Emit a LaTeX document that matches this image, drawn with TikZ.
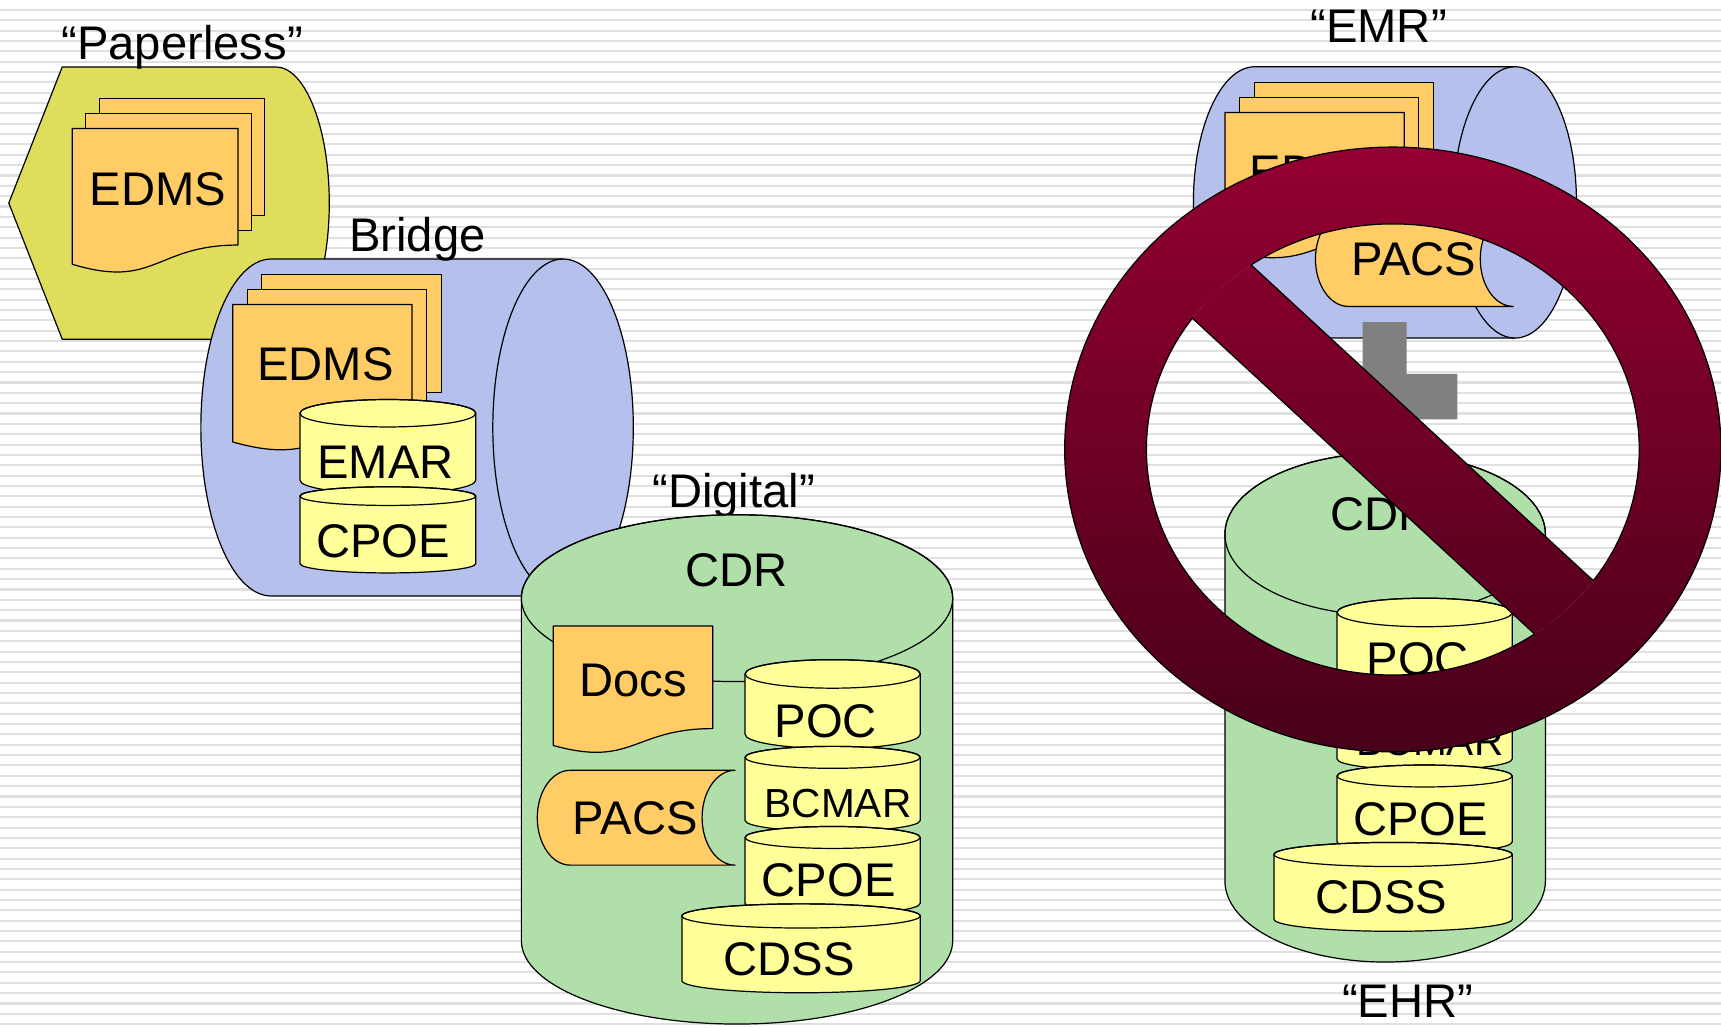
\documentclass[tikz,border=0pt]{standalone}
\usepackage{fontspec}
\setmainfont{Liberation Sans}
\definecolor{dispfill}{RGB}{222,221,92}
\definecolor{docfill}{RGB}{255,204,102}
\definecolor{bluefill}{RGB}{182,192,236}
\definecolor{greenfill}{RGB}{176,223,170}
\definecolor{diskfill}{RGB}{255,255,153}
\definecolor{grayL}{RGB}{128,128,128}
\definecolor{ringtop}{RGB}{148,0,50}
\definecolor{ringbot}{RGB}{72,0,26}
\definecolor{stripe}{RGB}{224,224,224}
\tikzset{
  ol/.style={draw=black, line width=1.1pt, line join=round},
  lbl/.style={font=\fontsize{43}{50}\selectfont, inner sep=0pt, anchor=base},
  lblsmall/.style={font=\fontsize{37}{44}\selectfont, inner sep=0pt, anchor=base}
}
\newcommand\VCan[6]{%
  \pgfmathsetmacro\vcX{(#1+#2)/2}%
  \pgfmathsetmacro\vcR{(#2-#1)/2}%
  \filldraw[ol, fill=#6] (#1,#3) -- (#1,#4) arc[start angle=180,end angle=0,x radius=\vcR,y radius=#5] -- (#2,#3) arc[start angle=0,end angle=-180,x radius=\vcR,y radius=#5] -- cycle;
  \draw[ol] (\vcX,#3) ellipse[x radius=\vcR,y radius=#5];
}
\newcommand\HCyl[6]{%
  \pgfmathsetmacro\hcA{#1+#5}%
  \pgfmathsetmacro\hcB{#2-#5}%
  \pgfmathsetmacro\hcR{(#4-#3)/2}%
  \filldraw[ol, fill=#6] (\hcA,#3) -- (\hcB,#3) arc[start angle=-90,end angle=90,x radius=#5,y radius=\hcR] -- (\hcA,#4) arc[start angle=90,end angle=270,x radius=#5,y radius=\hcR] -- cycle;
  \draw[ol] (\hcB,#3) arc[start angle=-90,end angle=-270,x radius=#5,y radius=\hcR];
}
\newcommand\DocShape[5]{%
  \pgfmathsetmacro\dsR{#1+#3}%
  \pgfmathsetmacro\dsM{#1+0.5*#3}%
  \pgfmathsetmacro\dsYr{#2+0.802*#4}%
  \pgfmathsetmacro\dsYc{#2+1.1075*#4}%
  \pgfmathsetmacro\dsYl{#2+0.934*#4}%
  \filldraw[ol, fill=#5] (#1,#2) -- (\dsR,#2) -- (\dsR,\dsYr) .. controls (\dsM,\dsYr) and (\dsM,\dsYc) .. (#1,\dsYl) -- cycle;
}
\newcommand\MultiDoc[6]{%
  \pgfmathsetmacro\mdRh{0.802*#4}%
  \pgfmathsetmacro\mdXb{#1+2*#5}%
  \pgfmathsetmacro\mdYb{#2-2*#6}%
  \pgfmathsetmacro\mdXm{#1+#5}%
  \pgfmathsetmacro\mdYm{#2-#6}%
  \filldraw[ol, fill=docfill] (\mdXb,\mdYb) rectangle ++(#3,\mdRh);
  \filldraw[ol, fill=docfill] (\mdXm,\mdYm) rectangle ++(#3,\mdRh);
  \DocShape{#1}{#2}{#3}{#4}{docfill}
}
\newcommand\Stored[5]{%
  \pgfmathsetmacro\stA{(#2-#1)/6}%
  \pgfmathsetmacro\stR{(#4-#3)/2}%
  \pgfmathsetmacro\stL{#1+\stA}%
  \filldraw[ol, fill=#5] (\stL,#3) -- (#2,#3) arc[start angle=270,end angle=90,x radius=\stA,y radius=\stR] -- (\stL,#4) arc[start angle=90,end angle=270,x radius=\stA,y radius=\stR] -- cycle;
}
\begin{document}
\begin{tikzpicture}[x=1pt,y=-1pt]
% background
\fill[white] (0,0) rectangle (1568,936);
\useasboundingbox (0,0) rectangle (1568,936);
\foreach \k in {1,...,99}{
  \draw[stripe, line width=1.9pt] (0,{\k*9.43-0.43}) -- (1568,{\k*9.43-0.43});
}

% ---------- Paperless ----------
\filldraw[ol, fill=dispfill] (8,185) -- (56.7,61) -- (251.3,61) arc[start angle=-90,end angle=90,x radius=48.7,y radius=124] -- (56.7,309) -- cycle;
\MultiDoc{65.9}{117}{151}{132.5}{12.2}{13.5}
\node[lbl] (plEDMS) at (144,187.3) {EDMS};
\node[lbl] (plTitle) at (166,54) {“Paperless”};

% ---------- Bridge ----------
\HCyl{183}{577}{236}{543}{64}{bluefill}
\node[lbl] (brTitle) at (380.3,228.7) {Bridge};
\MultiDoc{212}{277.5}{163.4}{134}{13.3}{13.6}
\node[lbl] (brEDMS) at (296.6,346.5) {EDMS};
\VCan{273.3}{433.5}{376.5}{437.5}{12.5}{diskfill}
\node[lbl] (brEMAR) at (351.2,435.8) {EMAR};
\VCan{273.3}{433.5}{452}{513.5}{8.5}{diskfill}
\node[lbl] (brCPOE) at (349.1,507.9) {CPOE};

% ---------- Digital ----------
\node[lbl] (dgTitle) at (668.5,462) {“Digital”};
\VCan{475}{868}{545}{857}{76}{greenfill}
\node[lbl] (dgCDR) at (671,534) {CDR};
\DocShape{504.1}{570.3}{145.3}{116.6}{docfill}
\node[lbl] (dgDocs) at (577,635) {Docs};
\Stored{489.5}{669.7}{701.8}{788.2}{docfill}
\node[lbl] (dgPACS) at (578.9,760) {PACS};
\VCan{678.8}{838.4}{614}{669}{13}{diskfill}
\node[lbl] (dgPOC) at (752.4,671.5) {POC};
\VCan{678.8}{838.4}{690}{747.5}{10}{diskfill}
\node[lblsmall] (dgBCMAR) at (763.5,744.5) {BCMAR};
\VCan{678.8}{838.4}{763}{823}{10}{diskfill}
\node[lbl] (dgCPOE) at (755,817) {CPOE};
\VCan{621.3}{838.4}{834.5}{893.5}{11}{diskfill}
\node[lbl] (dgCDSS) at (719.2,888.5) {CDSS};

% ---------- EMR ----------
\node[lbl] (emrTitle) at (1256,39) {“EMR”};
\HCyl{1087.3}{1436.3}{60.8}{308}{56}{bluefill}
\MultiDoc{1116}{102.5}{163.4}{134}{13.3}{13.6}
\node[lbl] (emrEDMS) at (1200.6,171.5) {EDMS};
\Stored{1198.5}{1378.7}{192.8}{279.2}{docfill}
\node[lbl] (emrPACS) at (1287.9,251) {PACS};
\fill[grayL] (1241.5,293.4) -- (1281.6,293.4) -- (1281.6,340.7) -- (1327.7,340.7) -- (1327.7,382) -- (1241.5,382) -- cycle;

% ---------- EHR ----------
\VCan{1116}{1408}{486.8}{802.5}{74}{greenfill}
\node[lbl] (ehrCDR) at (1258.4,483) {CDR};
\VCan{1218.2}{1377.8}{558}{613}{13}{diskfill}
\node[lbl] (ehrPOC) at (1291.8,615.5) {POC};
\VCan{1218.2}{1377.8}{634}{691.5}{10}{diskfill}
\node[lblsmall] (ehrBCMAR) at (1302.9,688.5) {BCMAR};
\VCan{1218.2}{1377.8}{707}{767}{10}{diskfill}
\node[lbl] (ehrCPOE) at (1294.4,761) {CPOE};
\VCan{1160.7}{1377.8}{778.5}{837.5}{11}{diskfill}
\node[lbl] (ehrCDSS) at (1258.6,832.5) {CDSS};
\node[lbl] (ehrTitle) at (1282.6,927) {“EHR”};

% ---------- prohibition sign ----------
\begin{scope}[even odd rule]
  \clip (1269,409.5) ellipse[x radius=299,y radius=275.5] (1269,409.5) ellipse[x radius=224.5,y radius=205.5];
  \shade[top color=ringtop, bottom color=ringbot] (960,133) rectangle (1580,686);
\end{scope}
\draw[ol] (1269,409.5) ellipse[x radius=299,y radius=275.5];
\begin{scope}[even odd rule]
  \clip (900,80) rectangle (1600,740) (999.46,111.76) -- (1587.38,654.32) -- (1538.54,707.24) -- (950.62,164.68) -- cycle;
  \draw[ol] (1269,409.5) ellipse[x radius=224.5,y radius=205.5];
\end{scope}
\begin{scope}
  \clip (1269,409.5) ellipse[x radius=224.5,y radius=205.5];
  \clip (999.46,111.76) -- (1587.38,654.32) -- (1538.54,707.24) -- (950.62,164.68) -- cycle;
  \shade[top color=ringtop, bottom color=ringbot] (960,133) rectangle (1580,686);
\end{scope}
\begin{scope}
  \clip (1269,409.5) ellipse[x radius=225,y radius=206];
  \draw[ol] (999.46,111.76) -- (1587.38,654.32);
  \draw[ol] (950.62,164.68) -- (1538.54,707.24);
\end{scope}
\end{tikzpicture}
\end{document}
